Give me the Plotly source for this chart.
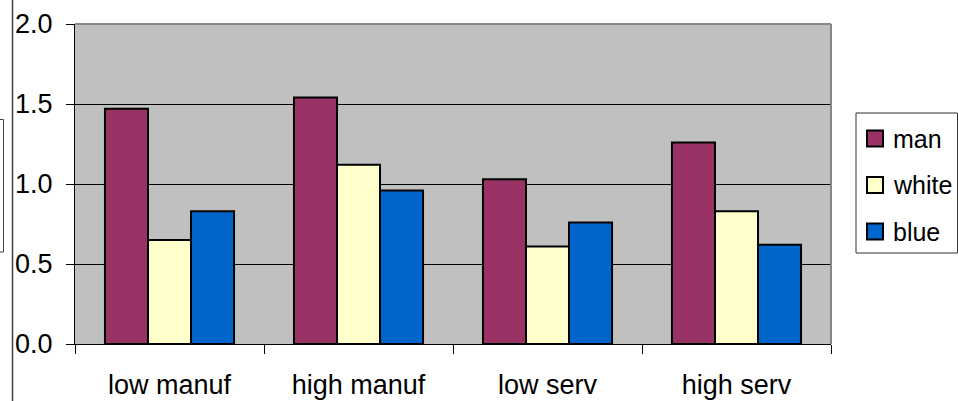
import plotly.graph_objects as go

# Relative ratios by sector and worker group
categories = ["low manuf", "high manuf", "low serv", "high serv"]
man = [1.47, 1.54, 1.03, 1.26]
white = [0.65, 1.12, 0.61, 0.83]
blue = [0.83, 0.96, 0.76, 0.62]

series_names = ["man", "white", "blue"]
series_values = [man, white, blue]
series_colors = ["#993366", "#FFFFCC", "#0066CC"]

y_ticks = [0.0, 0.5, 1.0, 1.5, 2.0]
y_tick_text = ["0.0", "0.5", "1.0", "1.5", "2.0"]

W, H = 958, 401
M_L, M_R, M_T, M_B = 75, 127, 24, 57
PW, PH = W - M_L - M_R, H - M_T - M_B


def px_x(p):
    return (p - M_L) / PW


def px_y(p):
    return (H - M_B - p) / PH


FONT = "Liberation Sans, Arial, sans-serif"
FS = 27

fig = go.Figure()
for name, vals, col in zip(series_names, series_values, series_colors):
    fig.add_trace(go.Bar(
        x=categories, y=vals, name=name,
        marker=dict(color=col, line=dict(color="black", width=2)),
    ))

# legend: framed box with square swatches, drawn in pixel-based paper coords
shapes = [
    dict(type="rect", xref="paper", yref="paper",
         x0=px_x(856), x1=px_x(957.5), y0=px_y(253), y1=px_y(113),
         line=dict(color="#333333", width=1), fillcolor="white"),
]
annotations = []
row_centers = [138.5, 185, 231.5]
for name, col, yc in zip(series_names, series_colors, row_centers):
    shapes.append(dict(
        type="rect", xref="paper", yref="paper",
        x0=px_x(867), x1=px_x(883), y0=px_y(yc + 8), y1=px_y(yc - 8),
        line=dict(color="black", width=2), fillcolor=col,
    ))
    annotations.append(dict(
        text=name, xref="paper", yref="paper", x=px_x(891), y=px_y(yc),
        xanchor="left", yanchor="middle", showarrow=False,
        font=dict(family=FONT, size=25, color="black"),
    ))

shapes += [
    # plot-area frame, top and right edges
    dict(type="line", xref="paper", yref="paper", x0=0, x1=1, y0=1, y1=1,
         line=dict(color="#868686", width=2)),
    dict(type="line", xref="paper", yref="paper", x0=1, x1=1, y0=0, y1=1,
         line=dict(color="#868686", width=2)),
    # outer vertical rule on the left side
    dict(type="line", xref="paper", yref="paper",
         x0=px_x(12.5), x1=px_x(12.5), y0=px_y(-2), y1=px_y(403),
         line=dict(color="#404040", width=1.5)),
    # partial box at the far left edge
    dict(type="rect", xref="paper", yref="paper",
         x0=px_x(-10), x1=px_x(3.5), y0=px_y(252), y1=px_y(119.5),
         line=dict(color="#404040", width=1)),
]

fig.update_layout(
    width=W, height=H,
    margin=dict(l=M_L, r=M_R, t=M_T, b=M_B, pad=0, autoexpand=False),
    paper_bgcolor="white",
    plot_bgcolor="#C0C0C0",
    barmode="group",
    bargap=0.317,
    bargroupgap=0,
    font=dict(family=FONT, size=FS, color="black"),
    showlegend=False,
    xaxis=dict(
        type="category", range=[-0.5, 3.5],
        showline=True, linecolor="black", linewidth=1,
        ticks="outside", ticklen=9, tickcolor="black", tickwidth=1,
        tickson="boundaries", showgrid=False,
        ticklabelstandoff=17,
        tickfont=dict(family=FONT, size=FS, color="black"),
    ),
    yaxis=dict(
        range=[0, 2.0], tickvals=y_ticks, ticktext=y_tick_text,
        showline=True, linecolor="black", linewidth=1,
        ticks="outside", ticklen=8, tickcolor="black", tickwidth=1,
        showgrid=True, gridcolor="black", gridwidth=1,
        zeroline=False, ticklabelstandoff=8,
        tickfont=dict(family=FONT, size=FS, color="black"),
    ),
    shapes=shapes,
    annotations=annotations,
)

fig.write_html("out.html")
